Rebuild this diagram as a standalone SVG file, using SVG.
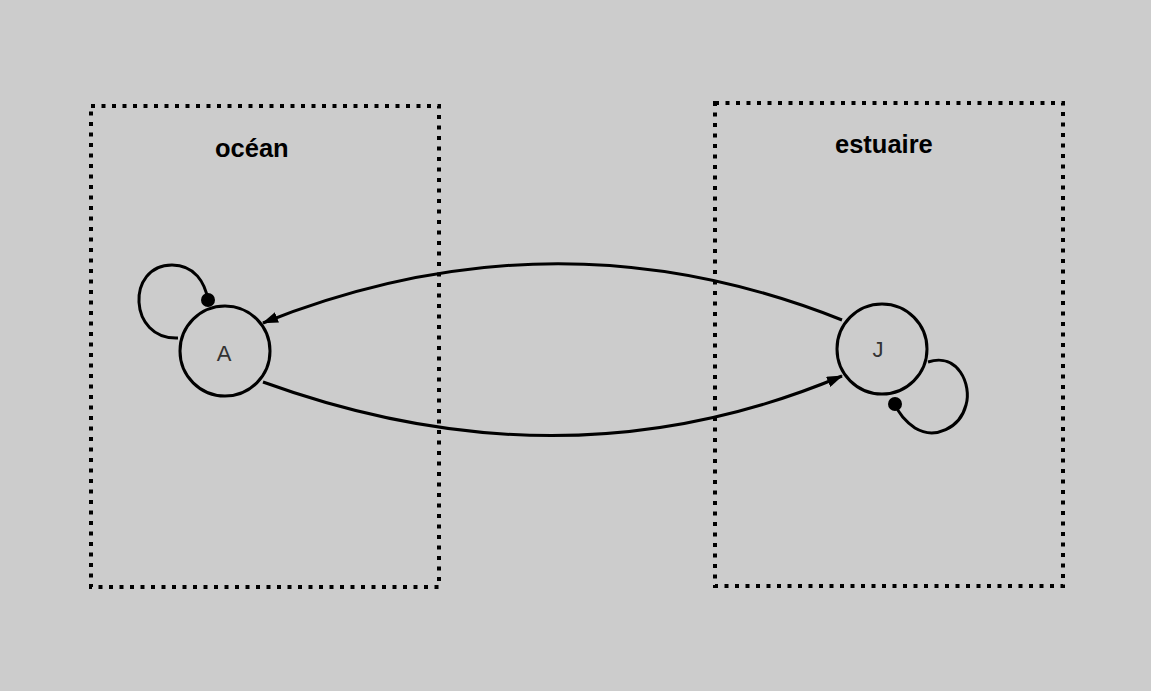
<svg xmlns="http://www.w3.org/2000/svg" width="1151" height="691" viewBox="0 0 1151 691">
<style>
.box{fill:none;stroke:#000;stroke-width:4;stroke-dasharray:4 6.5}
.node{fill:none;stroke:#000;stroke-width:3}
.edge{fill:none;stroke:#000;stroke-width:3}
.lbl{font-family:"Liberation Sans",Arial,sans-serif;font-weight:bold;font-size:25.5px;fill:#000}
.nlbl{font-family:"Liberation Sans",Arial,sans-serif;font-size:22px;fill:#333;text-anchor:middle}
</style>
<defs>
<marker id="arr" viewBox="0 0 16 11" refX="15" refY="5.5" markerWidth="16" markerHeight="11" markerUnits="userSpaceOnUse" orient="auto">
<path d="M0 0 L16 5.5 L0 11 Z" fill="#000"/>
</marker>
</defs>
<rect width="1151" height="691" fill="#cccccc"/>
<g id="ocean">
<rect class="box" x="91" y="106" width="348" height="481"/>
<text class="lbl" x="215" y="157">océan</text>
</g>
<g id="estuaire">
<rect class="box" x="715" y="103" width="348" height="483"/>
<text class="lbl" x="835" y="153">estuaire</text>
</g>
<g id="connectors">
<path class="edge" d="M842 320 Q556 206 263 323" marker-end="url(#arr)"/>
<path class="edge" d="M263 382 Q566 492 842 376" marker-end="url(#arr)"/>
<path class="edge" d="M178 338 C128 340 126 265 172 265 C195 265 205 283 208 300"/>
<circle cx="208" cy="300" r="7" fill="#000"/>
<path class="edge" d="M928 362 C958 352 972 385 966 405 C960 428 935 440 915 428 C905 421 898 412 895 404"/>
<circle cx="895" cy="404" r="7" fill="#000"/>
</g>
<g id="A">
<circle class="node" cx="225" cy="351" r="45"/>
<text class="nlbl" x="224" y="361">A</text>
</g>
<g id="J">
<circle class="node" cx="882" cy="349" r="45"/>
<text class="nlbl" x="878" y="357">J</text>
</g>
</svg>
